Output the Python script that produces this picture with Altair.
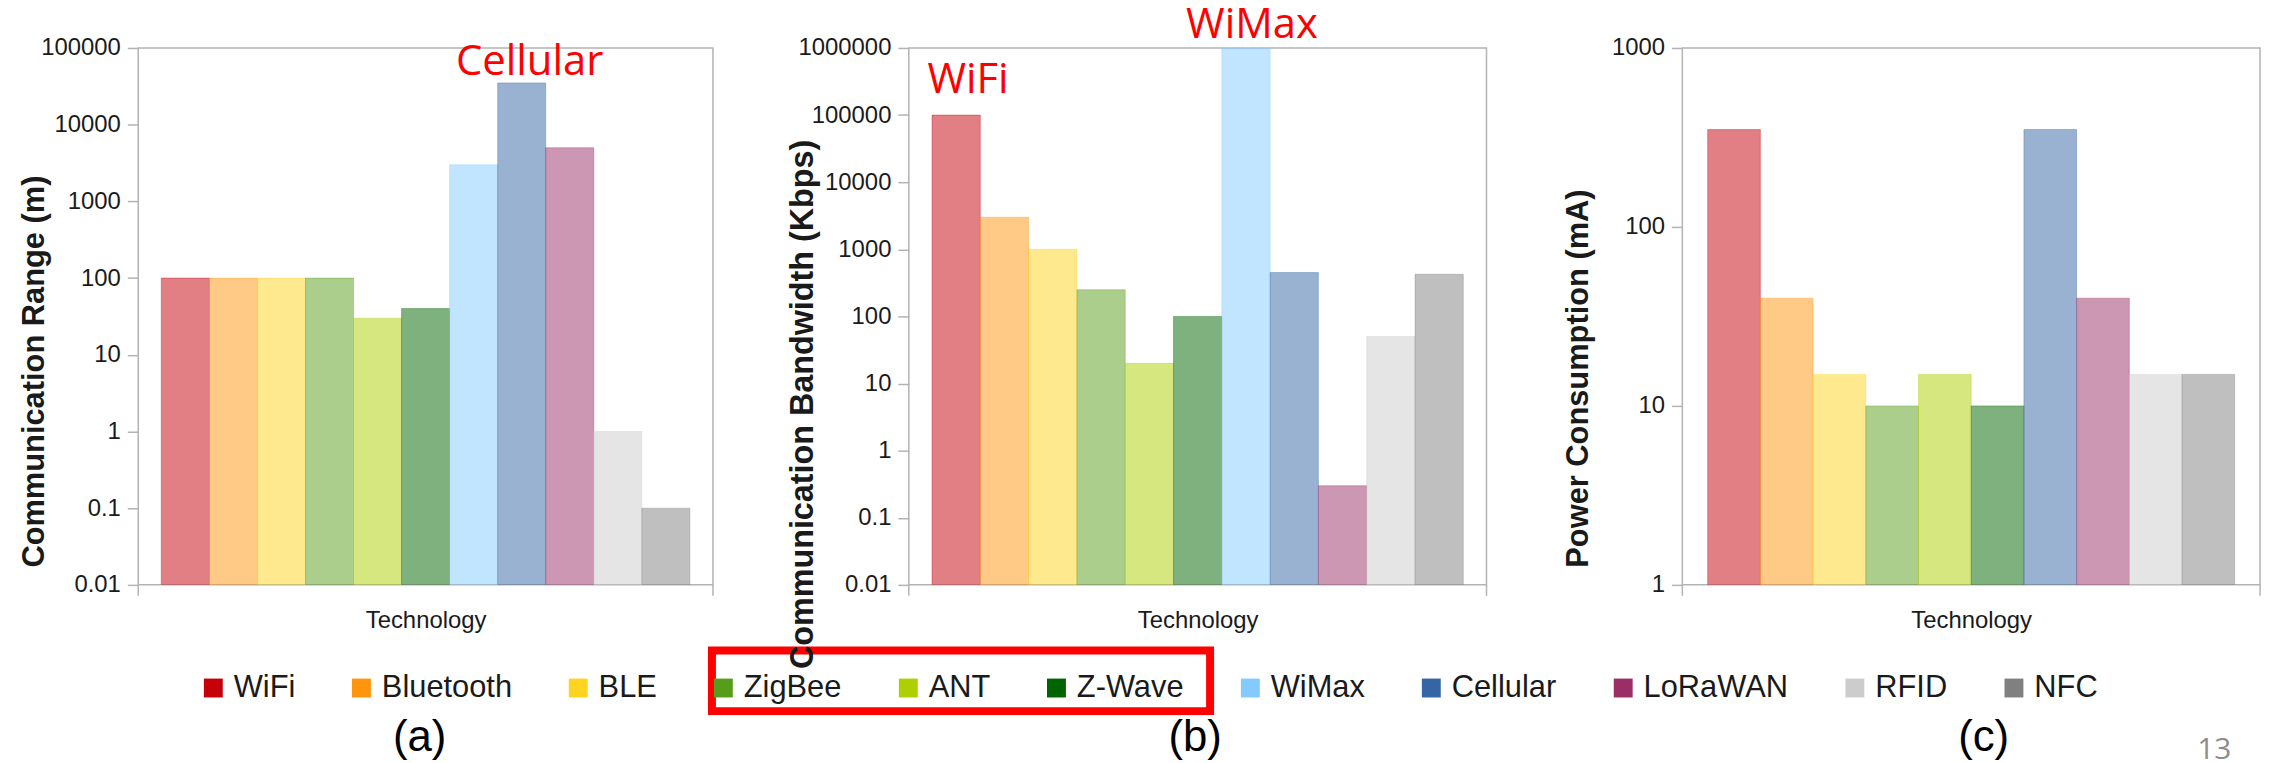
import altair as alt
import pandas as pd

# ---------------- data ----------------
techs = ["WiFi", "Bluetooth", "BLE", "ZigBee", "ANT", "Z-Wave",
         "WiMax", "Cellular", "LoRaWAN", "RFID", "NFC"]
colors = ["#c5000b", "#ff950e", "#ffd320", "#579d1c", "#aecf00", "#006400",
          "#83caff", "#3465a4", "#992f66", "#cccccc", "#808080"]

range_m = [100, 100, 100, 100, 30, 40, 3000, 35000, 5000, 1, 0.1]
range_ticks = [0.01, 0.1, 1, 10, 100, 1000, 10000, 100000]

bandwidth_kbps = [100000, 3000, 1000, 250, 20, 100, 1000000, 450, 0.3, 50, 424]
bandwidth_ticks = [0.01, 0.1, 1, 10, 100, 1000, 10000, 100000, 1000000]

power_techs = ["WiFi", "Bluetooth", "BLE", "ZigBee", "ANT", "Z-Wave",
               "Cellular", "LoRaWAN", "RFID", "NFC"]
power_ma = [350, 40, 15, 10, 15, 10, 350, 40, 15, 15]
power_ticks = [1, 10, 100, 1000]

# red annotations
ann_a = {"Technology": ["Cellular"], "Value": [35000], "label": ["Cellular"]}
ann_b = {"Technology": ["WiFi", "WiMax"], "Value": [100000, 1000000], "label": ["WiFi", "WiMax"]}

H = 540
GRAY = "#b3b3b3"
TXT = "#1a1a1a"
FONT = "Liberation Sans"


def panel(tlist, values, ticks, ytitle, width, title_x, title_y, title_size, label, label_x,
          ann=None, ann_dx=None, ann_dy=None, extra=None):
    df = pd.DataFrame({"Technology": tlist, "Value": values})
    xenc = alt.X(
        "Technology:N", sort=tlist,
        scale=alt.Scale(domain=tlist, paddingInner=0, paddingOuter=0.48),
        axis=alt.Axis(title="Technology", labels=False, ticks=False, domain=False,
                      titleFontSize=24, titleFont=FONT, titleFontWeight="normal",
                      titleColor=TXT, titlePadding=24),
    )
    yenc = alt.Y(
        "Value:Q",
        scale=alt.Scale(type="log", domain=[ticks[0], ticks[-1]], nice=False),
        axis=alt.Axis(values=ticks, labelExpr="'' + datum.value", grid=False,
                      domain=False, tickSize=11, tickColor=GRAY, tickWidth=1.5,
                      labelFontSize=24, labelFont=FONT, labelColor=TXT, labelPadding=7,
                      title=ytitle, titleFontSize=title_size, titleFont=FONT,
                      titleFontWeight="bold", titleColor=TXT, titleX=title_x,
                      titleY=title_y, titleBaseline="middle", titleAngle=270),
    )
    bars = alt.Chart(df).mark_bar(fillOpacity=0.5, strokeOpacity=0.35, strokeWidth=1,
                                  clip=True).encode(
        x=xenc, y=yenc, y2=alt.datum(ticks[0]),
        color=alt.Color(
            "Technology:N",
            scale=alt.Scale(domain=techs, range=colors),
            legend=alt.Legend(title=None, orient="none", legendX=60, legendY=628,
                              direction="horizontal", columns=11, symbolType="square",
                              symbolSize=361, symbolStrokeWidth=0, symbolOpacity=1,
                              labelFontSize=31, labelFont=FONT, labelColor=TXT,
                              labelOffset=5, columnPadding=51, padding=0),
        ),
        stroke=alt.Stroke("Technology:N", scale=alt.Scale(domain=techs, range=colors),
                          legend=None),
    )
    one = pd.DataFrame({"k": [0]})
    corner_l = alt.Chart(one).mark_rule(color=GRAY, strokeWidth=1.5).encode(
        x=alt.value(0), y=alt.value(H), y2=alt.value(H + 11))
    corner_r = alt.Chart(one).mark_rule(color=GRAY, strokeWidth=1.5).encode(
        x=alt.value(width), y=alt.value(H), y2=alt.value(H + 11))
    sub = alt.Chart(one).mark_text(text=label, font=FONT, fontSize=44, color="#000000",
                                   baseline="alphabetic", align="center").encode(
        x=alt.value(label_x), y=alt.value(707))
    layers = [bars, corner_l, corner_r, sub]
    if ann is not None:
        for i in range(len(ann["label"])):
            adf = pd.DataFrame({"Technology": [ann["Technology"][i]],
                                "Value": [ann["Value"][i]],
                                "label": [ann["label"][i]]})
            layers.append(
                alt.Chart(adf).mark_text(font="Open Sans", fontSize=42, color="#ff0000",
                                         baseline="alphabetic", align="center",
                                         dx=ann_dx[i], dy=ann_dy[i]).encode(
                    x=alt.X("Technology:N", sort=tlist), y=alt.Y("Value:Q"),
                    text="label:N"))
    if extra:
        layers += extra
    return alt.layer(*layers).properties(width=width, height=H)


one = pd.DataFrame({"k": [0]})
red_box = alt.Chart(one).mark_rect(filled=False, stroke="#ff0000", strokeWidth=8).encode(
    x=alt.value(577), x2=alt.value(1078), y=alt.value(606), y2=alt.value(667))
page_no = alt.Chart(one).mark_text(text="13", font="Open Sans", fontSize=30,
                                   color="#8c8c8c", baseline="top").encode(
    x=alt.value(535), y=alt.value(691))

pa = panel(techs, range_m, range_ticks, "Communication Range (m)", 578, -104, 325, 31,
           "(a)", 283, ann=ann_a, ann_dx=[8], ann_dy=[-8], extra=[red_box])
pb = panel(techs, bandwidth_kbps, bandwidth_ticks, "Communication Bandwidth (Kbps)", 581,
           -107, 358, 32.5, "(b)", 288, ann=ann_b, ann_dx=[12, 6], ann_dy=[-22, -10])
pc = panel(power_techs, power_ma, power_ticks, "Power Consumption (mA)", 581, -104, 332, 31,
           "(c)", 303, extra=[page_no])

chart = alt.hconcat(pa, pb, pc, spacing=197, bounds="flush").resolve_scale(
    color="shared"
).properties(
    padding={"left": 10, "top": -7, "right": 5, "bottom": 0}
).configure_view(stroke=GRAY, strokeWidth=1.5)

chart.save("out.html", embed_options={"renderer": "svg", "actions": False})
